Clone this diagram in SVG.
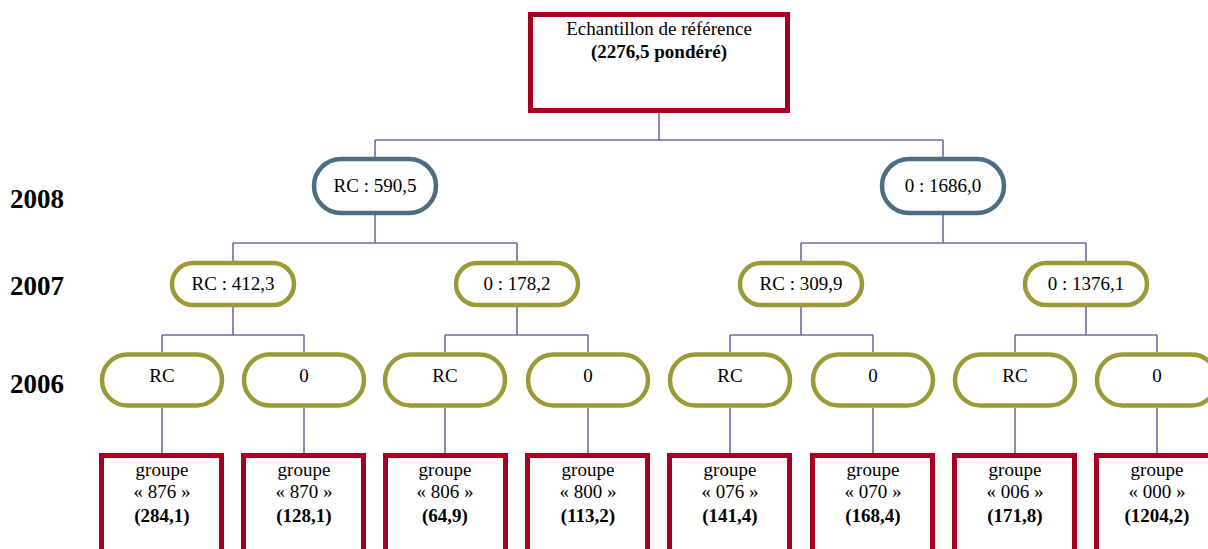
<svg xmlns="http://www.w3.org/2000/svg" width="1208" height="549" viewBox="0 0 1208 549">
<style>
text{font-family:"Liberation Serif","Times New Roman",serif;fill:#000;text-anchor:middle}
.t{font-size:19px}
.b{font-weight:bold}
.yr{font-size:27px;font-weight:bold;text-anchor:start}
.box{fill:#fff;stroke:#A50021;stroke-width:5}
.p1{fill:#fff;stroke:#4D6E82;stroke-width:4.5}
.p2{fill:#fff;stroke:#9C9A36;stroke-width:4.5}
.c{fill:none;stroke:#6B6BA6;stroke-width:1.6}
</style>
<rect width="1208" height="549" fill="#fff"/>
<g id="connectors">
<path class="c" d="M659 112V140M375 140H943M375 140V157M943 140V157"/>
<path class="c" d="M375 215V243M233 243H517M233 243V261M517 243V261"/>
<path class="c" d="M943 215V243M801 243H1086M801 243V261M1086 243V261"/>
<path class="c" d="M233 307V335M162 335H304M162 335V352M304 335V352"/>
<path class="c" d="M517 307V335M445 335H588M445 335V352M588 335V352"/>
<path class="c" d="M801 307V335M730 335H873M730 335V352M873 335V352"/>
<path class="c" d="M1086 307V335M1015 335H1157M1015 335V352M1157 335V352"/>
<path class="c" d="M162 408V453M304 408V453M445 408V453M588 408V453M730 408V453M873 408V453M1015 408V453M1157 408V453"/>
</g>
<g id="years">
<text class="yr" x="10" y="208">2008</text>
<text class="yr" x="10" y="295">2007</text>
<text class="yr" x="10" y="393">2006</text>
</g>
<g id="root">
<rect class="box" x="530.5" y="14.5" width="257" height="96"/>
<text class="t" x="659" y="35">Echantillon de référence</text>
<text class="t b" x="659" y="58">(2276,5 pondéré)</text>
</g>
<g id="n2008rc"><rect class="p1" x="314" y="159" width="122" height="54" rx="27"/><text class="t" x="375" y="192">RC : 590,5</text></g>
<g id="n2008o"><rect class="p1" x="882" y="159" width="122" height="54" rx="27"/><text class="t" x="943" y="192">0 : 1686,0</text></g>
<g id="n2007a"><rect class="p2" x="172" y="263" width="122" height="42" rx="21"/><text class="t" x="233" y="290">RC : 412,3</text></g>
<g id="n2007b"><rect class="p2" x="456" y="263" width="122" height="42" rx="21"/><text class="t" x="517" y="290">0 : 178,2</text></g>
<g id="n2007c"><rect class="p2" x="740" y="263" width="122" height="42" rx="21"/><text class="t" x="801" y="290">RC : 309,9</text></g>
<g id="n2007d"><rect class="p2" x="1025" y="263" width="122" height="42" rx="21"/><text class="t" x="1086" y="290">0 : 1376,1</text></g>
<g id="n2006a"><rect class="p2" x="102" y="354.5" width="120" height="51" rx="25.5"/><text class="t" x="162" y="382">RC</text></g>
<g id="n2006b"><rect class="p2" x="244" y="354.5" width="120" height="51" rx="25.5"/><text class="t" x="304" y="382">0</text></g>
<g id="n2006c"><rect class="p2" x="385" y="354.5" width="120" height="51" rx="25.5"/><text class="t" x="445" y="382">RC</text></g>
<g id="n2006d"><rect class="p2" x="528" y="354.5" width="120" height="51" rx="25.5"/><text class="t" x="588" y="382">0</text></g>
<g id="n2006e"><rect class="p2" x="670" y="354.5" width="120" height="51" rx="25.5"/><text class="t" x="730" y="382">RC</text></g>
<g id="n2006f"><rect class="p2" x="813" y="354.5" width="120" height="51" rx="25.5"/><text class="t" x="873" y="382">0</text></g>
<g id="n2006g"><rect class="p2" x="955" y="354.5" width="120" height="51" rx="25.5"/><text class="t" x="1015" y="382">RC</text></g>
<g id="n2006h"><rect class="p2" x="1097" y="354.5" width="120" height="51" rx="25.5"/><text class="t" x="1157" y="382">0</text></g>
<g id="g876"><rect class="box" x="101.5" y="455.5" width="120" height="100"/><text class="t" x="162" y="476">groupe</text><text class="t" x="162" y="498">« 876 »</text><text class="t b" x="162" y="522">(284,1)</text></g>
<g id="g870"><rect class="box" x="243.5" y="455.5" width="120" height="100"/><text class="t" x="304" y="476">groupe</text><text class="t" x="304" y="498">« 870 »</text><text class="t b" x="304" y="522">(128,1)</text></g>
<g id="g806"><rect class="box" x="385.5" y="455.5" width="120" height="100"/><text class="t" x="445" y="476">groupe</text><text class="t" x="445" y="498">« 806 »</text><text class="t b" x="445" y="522">(64,9)</text></g>
<g id="g800"><rect class="box" x="527.5" y="455.5" width="120" height="100"/><text class="t" x="588" y="476">groupe</text><text class="t" x="588" y="498">« 800 »</text><text class="t b" x="588" y="522">(113,2)</text></g>
<g id="g076"><rect class="box" x="669.5" y="455.5" width="120" height="100"/><text class="t" x="730" y="476">groupe</text><text class="t" x="730" y="498">« 076 »</text><text class="t b" x="730" y="522">(141,4)</text></g>
<g id="g070"><rect class="box" x="812.5" y="455.5" width="120" height="100"/><text class="t" x="873" y="476">groupe</text><text class="t" x="873" y="498">« 070 »</text><text class="t b" x="873" y="522">(168,4)</text></g>
<g id="g006"><rect class="box" x="954.5" y="455.5" width="120" height="100"/><text class="t" x="1015" y="476">groupe</text><text class="t" x="1015" y="498">« 006 »</text><text class="t b" x="1015" y="522">(171,8)</text></g>
<g id="g000"><rect class="box" x="1096.5" y="455.5" width="120" height="100"/><text class="t" x="1157" y="476">groupe</text><text class="t" x="1157" y="498">« 000 »</text><text class="t b" x="1157" y="522">(1204,2)</text></g>
</svg>
